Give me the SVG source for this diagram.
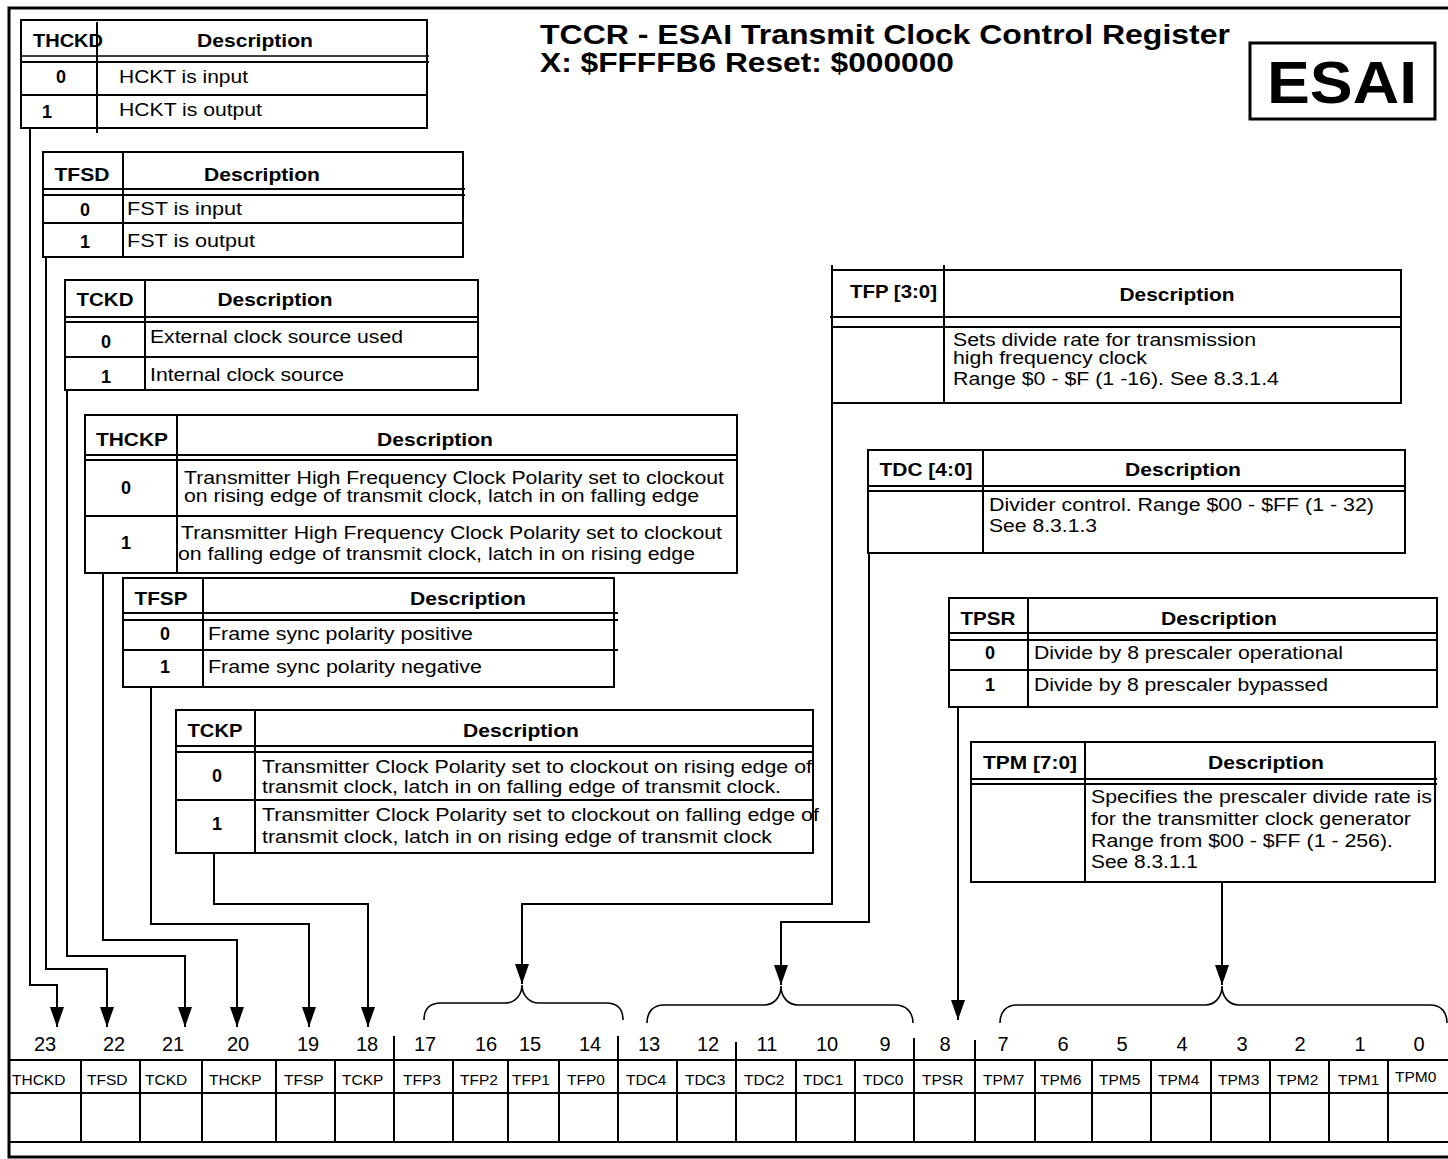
<svg xmlns="http://www.w3.org/2000/svg" width="1448" height="1159" viewBox="0 0 1448 1159">
<style>
text{font-family:"Liberation Sans",Arial,Helvetica,sans-serif;fill:#000}
.frame{fill:none;stroke:#000;stroke-width:3}
.tb{fill:none;stroke:#000;stroke-width:2}
.ln{stroke:#000;stroke-width:2;fill:none}
.thin{stroke:#000;stroke-width:1.5;fill:none}
.conn{fill:none;stroke:#000;stroke-width:2}
.brace{fill:none;stroke:#000;stroke-width:1.6}
.h{font-weight:bold;font-size:18px}
.hm{font-weight:bold;font-size:18px;text-anchor:middle}
.b{font-size:17.5px}
.n{font-weight:bold;font-size:18px;text-anchor:middle}
.bit{font-size:20px;text-anchor:middle}
.reg{font-size:15.5px}
.title{font-weight:bold;font-size:27px}
</style>
<defs>
<marker id="arr" markerUnits="userSpaceOnUse" markerWidth="20" markerHeight="14" refX="20" refY="7" orient="auto">
<path d="M0,0 L20,7 L0,14 z" fill="#000"/>
</marker>
</defs>
<rect class="frame" x="9" y="8" width="1446" height="1149"/>

<g id="title">
<text class="title" x="540" y="44" textLength="690" lengthAdjust="spacingAndGlyphs">TCCR - ESAI Transmit Clock Control Register</text>
<text class="title" x="540" y="72" textLength="414" lengthAdjust="spacingAndGlyphs">X: $FFFFB6 Reset: $000000</text>
</g>
<g id="esai">
<rect x="1250" y="43" width="185" height="76" fill="none" stroke="#000" stroke-width="3"/>
<text x="1342" y="103" font-size="60" font-weight="bold" text-anchor="middle" textLength="150" lengthAdjust="spacingAndGlyphs">ESAI</text>
</g>

<g id="t-thckd">
<rect class="tb" x="21" y="20" width="406" height="108"/>
<line class="thin" x1="21" y1="56" x2="429" y2="56"/>
<line class="ln" x1="21" y1="62" x2="429" y2="62"/>
<line class="ln" x1="21" y1="95" x2="427" y2="95"/>
<line class="ln" x1="97" y1="22" x2="97" y2="133"/>
<text class="h" x="33" y="47" textLength="70" lengthAdjust="spacingAndGlyphs">THCKD</text>
<text class="hm" x="255" y="47" textLength="116" lengthAdjust="spacingAndGlyphs">Description</text>
<text class="n" x="61" y="83">0</text>
<text class="b" x="119" y="83" textLength="129" lengthAdjust="spacingAndGlyphs">HCKT is input</text>
<text class="n" x="47" y="118">1</text>
<text class="b" x="119" y="116" textLength="143" lengthAdjust="spacingAndGlyphs">HCKT is output</text>
</g>

<g id="t-tfsd">
<rect class="tb" x="43" y="152" width="420" height="105"/>
<line class="ln" x1="43" y1="189" x2="465" y2="189"/>
<line class="ln" x1="43" y1="195" x2="465" y2="195"/>
<line class="ln" x1="43" y1="223" x2="463" y2="223"/>
<line class="ln" x1="123" y1="152" x2="123" y2="257"/>
<text class="hm" x="82" y="181" textLength="55" lengthAdjust="spacingAndGlyphs">TFSD</text>
<text class="hm" x="262" y="181" textLength="116" lengthAdjust="spacingAndGlyphs">Description</text>
<text class="n" x="85" y="216">0</text>
<text class="b" x="127" y="215" textLength="115" lengthAdjust="spacingAndGlyphs">FST is input</text>
<text class="n" x="85" y="248">1</text>
<text class="b" x="127" y="247" textLength="128" lengthAdjust="spacingAndGlyphs">FST is output</text>
</g>

<g id="t-tckd">
<rect class="tb" x="65" y="280" width="413" height="110"/>
<line class="ln" x1="65" y1="317" x2="478" y2="317"/>
<line class="ln" x1="65" y1="322" x2="478" y2="322"/>
<line class="ln" x1="65" y1="357" x2="478" y2="357"/>
<line class="ln" x1="145" y1="280" x2="145" y2="390"/>
<text class="hm" x="105" y="306" textLength="57" lengthAdjust="spacingAndGlyphs">TCKD</text>
<text class="hm" x="275" y="306" textLength="115" lengthAdjust="spacingAndGlyphs">Description</text>
<text class="n" x="106" y="348">0</text>
<text class="b" x="150" y="343" textLength="253" lengthAdjust="spacingAndGlyphs">External clock source used</text>
<text class="n" x="106" y="383">1</text>
<text class="b" x="150" y="381" textLength="194" lengthAdjust="spacingAndGlyphs">Internal clock source</text>
</g>

<g id="t-thckp">
<rect class="tb" x="85" y="415" width="652" height="158"/>
<line class="ln" x1="85" y1="455" x2="737" y2="455"/>
<line class="ln" x1="85" y1="460" x2="737" y2="460"/>
<line class="ln" x1="85" y1="516" x2="737" y2="516"/>
<line class="ln" x1="177" y1="415" x2="177" y2="573"/>
<text class="hm" x="132" y="446" textLength="72" lengthAdjust="spacingAndGlyphs">THCKP</text>
<text class="hm" x="435" y="446" textLength="116" lengthAdjust="spacingAndGlyphs">Description</text>
<text class="n" x="126" y="494">0</text>
<text class="b" x="184" y="484" textLength="540" lengthAdjust="spacingAndGlyphs">Transmitter High Frequency Clock Polarity set to clockout</text>
<text class="b" x="184" y="502" textLength="515" lengthAdjust="spacingAndGlyphs">on rising edge of transmit clock, latch in on falling edge</text>
<text class="n" x="126" y="549">1</text>
<text class="b" x="181" y="539" textLength="541" lengthAdjust="spacingAndGlyphs">Transmitter High Frequency Clock Polarity set to clockout</text>
<text class="b" x="178" y="560" textLength="517" lengthAdjust="spacingAndGlyphs">on falling edge of transmit clock, latch in on rising edge</text>
</g>

<g id="t-tfsp">
<rect class="tb" x="123" y="578" width="491" height="109"/>
<line class="ln" x1="123" y1="613" x2="618" y2="613"/>
<line class="ln" x1="123" y1="620" x2="618" y2="620"/>
<line class="ln" x1="123" y1="650" x2="618" y2="650"/>
<line class="ln" x1="203" y1="578" x2="203" y2="687"/>
<text class="hm" x="161" y="605" textLength="53" lengthAdjust="spacingAndGlyphs">TFSP</text>
<text class="hm" x="468" y="605" textLength="116" lengthAdjust="spacingAndGlyphs">Description</text>
<text class="n" x="165" y="640">0</text>
<text class="b" x="208" y="640" textLength="265" lengthAdjust="spacingAndGlyphs">Frame sync polarity positive</text>
<text class="n" x="165" y="673">1</text>
<text class="b" x="208" y="673" textLength="274" lengthAdjust="spacingAndGlyphs">Frame sync polarity negative</text>
</g>

<g id="t-tckp">
<rect class="tb" x="176" y="710" width="637" height="143"/>
<line class="ln" x1="176" y1="746" x2="813" y2="746"/>
<line class="ln" x1="176" y1="752" x2="813" y2="752"/>
<line class="ln" x1="176" y1="800" x2="813" y2="800"/>
<line class="ln" x1="255" y1="710" x2="255" y2="853"/>
<text class="hm" x="215" y="737" textLength="55" lengthAdjust="spacingAndGlyphs">TCKP</text>
<text class="hm" x="521" y="737" textLength="116" lengthAdjust="spacingAndGlyphs">Description</text>
<text class="n" x="217" y="782">0</text>
<text class="b" x="262" y="773" textLength="550" lengthAdjust="spacingAndGlyphs">Transmitter Clock Polarity set to clockout on rising edge of</text>
<text class="b" x="262" y="793" textLength="519" lengthAdjust="spacingAndGlyphs">transmit clock, latch in on falling edge of transmit clock.</text>
<text class="n" x="217" y="830">1</text>
<text class="b" x="262" y="821" textLength="557" lengthAdjust="spacingAndGlyphs">Transmitter Clock Polarity set to clockout on falling edge of</text>
<text class="b" x="262" y="843" textLength="510" lengthAdjust="spacingAndGlyphs">transmit clock, latch in on rising edge of transmit clock</text>
</g>

<g id="t-tfp">
<rect class="tb" x="832" y="270" width="569" height="133"/>
<line class="ln" x1="830" y1="317" x2="1401" y2="317"/>
<line class="ln" x1="832" y1="327" x2="1401" y2="327"/>
<line class="ln" x1="944" y1="265" x2="944" y2="403"/>
<text class="h" x="850" y="298" textLength="87" lengthAdjust="spacingAndGlyphs">TFP [3:0]</text>
<text class="hm" x="1177" y="301" textLength="115" lengthAdjust="spacingAndGlyphs">Description</text>
<text class="b" x="953" y="346" textLength="303" lengthAdjust="spacingAndGlyphs">Sets divide rate for transmission</text>
<text class="b" x="953" y="364" textLength="194" lengthAdjust="spacingAndGlyphs">high frequency clock</text>
<text class="b" x="953" y="385" textLength="326" lengthAdjust="spacingAndGlyphs">Range $0 - $F (1 -16). See 8.3.1.4</text>
</g>

<g id="t-tdc">
<rect class="tb" x="868" y="450" width="537" height="103"/>
<line class="ln" x1="868" y1="486" x2="1405" y2="486"/>
<line class="ln" x1="868" y1="491" x2="1405" y2="491"/>
<line class="ln" x1="983" y1="450" x2="983" y2="553"/>
<text class="hm" x="926" y="476" textLength="93" lengthAdjust="spacingAndGlyphs">TDC [4:0]</text>
<text class="hm" x="1183" y="476" textLength="116" lengthAdjust="spacingAndGlyphs">Description</text>
<text class="b" x="989" y="511" textLength="385" lengthAdjust="spacingAndGlyphs">Divider control. Range $00 - $FF (1 - 32)</text>
<text class="b" x="989" y="532" textLength="108" lengthAdjust="spacingAndGlyphs">See 8.3.1.3</text>
</g>

<g id="t-tpsr">
<rect class="tb" x="949" y="598" width="488" height="109"/>
<line class="ln" x1="949" y1="633" x2="1437" y2="633"/>
<line class="ln" x1="949" y1="640" x2="1437" y2="640"/>
<line class="ln" x1="949" y1="670" x2="1437" y2="670"/>
<line class="ln" x1="1028" y1="598" x2="1028" y2="707"/>
<text class="hm" x="988" y="625" textLength="55" lengthAdjust="spacingAndGlyphs">TPSR</text>
<text class="hm" x="1219" y="625" textLength="116" lengthAdjust="spacingAndGlyphs">Description</text>
<text class="n" x="990" y="659">0</text>
<text class="b" x="1034" y="659" textLength="309" lengthAdjust="spacingAndGlyphs">Divide by 8 prescaler operational</text>
<text class="n" x="990" y="691">1</text>
<text class="b" x="1034" y="691" textLength="294" lengthAdjust="spacingAndGlyphs">Divide by 8 prescaler bypassed</text>
</g>

<g id="t-tpm">
<rect class="tb" x="971" y="742" width="464" height="140"/>
<line class="ln" x1="971" y1="779" x2="1437" y2="779"/>
<line class="ln" x1="971" y1="784" x2="1437" y2="784"/>
<line class="ln" x1="1085" y1="742" x2="1085" y2="882"/>
<text class="hm" x="1030" y="769" textLength="94" lengthAdjust="spacingAndGlyphs">TPM [7:0]</text>
<text class="hm" x="1266" y="769" textLength="116" lengthAdjust="spacingAndGlyphs">Description</text>
<text class="b" x="1091" y="803" textLength="341" lengthAdjust="spacingAndGlyphs">Specifies the prescaler divide rate is</text>
<text class="b" x="1091" y="825" textLength="320" lengthAdjust="spacingAndGlyphs">for the transmitter clock generator</text>
<text class="b" x="1091" y="847" textLength="302" lengthAdjust="spacingAndGlyphs">Range from $00 - $FF (1 - 256).</text>
<text class="b" x="1091" y="868" textLength="107" lengthAdjust="spacingAndGlyphs">See 8.3.1.1</text>
</g>

<g id="connectors">
<polyline class="conn" points="30,128 30,985 57,985 57,1027" marker-end="url(#arr)"/>
<polyline class="conn" points="46,257 46,969 107,969 107,1027" marker-end="url(#arr)"/>
<polyline class="conn" points="67,390 67,956 185,956 185,1027" marker-end="url(#arr)"/>
<polyline class="conn" points="103,573 103,940 237,940 237,1027" marker-end="url(#arr)"/>
<polyline class="conn" points="151,687 151,924 309,924 309,1027" marker-end="url(#arr)"/>
<polyline class="conn" points="214,853 214,904 368,904 368,1027" marker-end="url(#arr)"/>
<polyline class="conn" points="832,265 832,904 522,904 522,984" marker-end="url(#arr)"/>
<polyline class="conn" points="869,553 869,922 781,922 781,985" marker-end="url(#arr)"/>
<polyline class="conn" points="958,707 958,1020" marker-end="url(#arr)"/>
<polyline class="conn" points="1222,882 1222,985" marker-end="url(#arr)"/>
<path class="brace" d="M424,1020 C424,1009 430,1003 441,1003 L505,1003 C515,1003 522,995 522,985 C522,995 529,1003 539,1003 L606,1003 C617,1003 623,1009 623,1020"/>
<path class="brace" d="M647,1023 C647,1012 653,1005 664,1005 L764,1005 C774,1005 781,997 781,986 C781,997 788,1005 798,1005 L895,1005 C906,1005 913,1012 913,1023"/>
<path class="brace" d="M1000,1023 C1000,1012 1006,1005 1017,1005 L1205,1005 C1215,1005 1222,997 1222,986 C1222,997 1229,1005 1239,1005 L1430,1005 C1441,1005 1447,1012 1447,1023"/>
</g>

<g id="register">
<line class="ln" x1="9" y1="1060" x2="1448" y2="1060"/>
<line class="ln" x1="9" y1="1093" x2="1448" y2="1093"/>
<line class="ln" x1="9" y1="1142" x2="1448" y2="1142"/>
<path class="ln" d="M81,1060V1142M140,1060V1142M202,1060V1142M276,1060V1142M335,1060V1142M394,1036V1142M453,1060V1142M508,1060V1142M559,1060V1142M618,1036V1142M677,1060V1142M736,1042V1142M796,1060V1142M855,1060V1142M914,1038V1142M975,1040V1142M1035,1060V1142M1092,1060V1142M1151,1060V1142M1211,1060V1142M1270,1060V1142M1329,1060V1142M1388,1060V1142"/>
<text class="bit" x="45" y="1051">23</text>
<text class="bit" x="114" y="1051">22</text>
<text class="bit" x="173" y="1051">21</text>
<text class="bit" x="238" y="1051">20</text>
<text class="bit" x="308" y="1051">19</text>
<text class="bit" x="367" y="1051">18</text>
<text class="bit" x="425" y="1051">17</text>
<text class="bit" x="486" y="1051">16</text>
<text class="bit" x="530" y="1051">15</text>
<text class="bit" x="590" y="1051">14</text>
<text class="bit" x="649" y="1051">13</text>
<text class="bit" x="708" y="1051">12</text>
<text class="bit" x="767" y="1051">11</text>
<text class="bit" x="827" y="1051">10</text>
<text class="bit" x="885" y="1051">9</text>
<text class="bit" x="945" y="1051">8</text>
<text class="bit" x="1003" y="1051">7</text>
<text class="bit" x="1063" y="1051">6</text>
<text class="bit" x="1122" y="1051">5</text>
<text class="bit" x="1182" y="1051">4</text>
<text class="bit" x="1242" y="1051">3</text>
<text class="bit" x="1300" y="1051">2</text>
<text class="bit" x="1360" y="1051">1</text>
<text class="bit" x="1419" y="1051">0</text>
<text class="reg" x="12" y="1085">THCKD</text>
<text class="reg" x="87" y="1085">TFSD</text>
<text class="reg" x="145" y="1085">TCKD</text>
<text class="reg" x="209" y="1085">THCKP</text>
<text class="reg" x="284" y="1085">TFSP</text>
<text class="reg" x="342" y="1085">TCKP</text>
<text class="reg" x="403" y="1085">TFP3</text>
<text class="reg" x="460" y="1085">TFP2</text>
<text class="reg" x="512" y="1085">TFP1</text>
<text class="reg" x="567" y="1085">TFP0</text>
<text class="reg" x="626" y="1085">TDC4</text>
<text class="reg" x="685" y="1085">TDC3</text>
<text class="reg" x="744" y="1085">TDC2</text>
<text class="reg" x="803" y="1085">TDC1</text>
<text class="reg" x="863" y="1085">TDC0</text>
<text class="reg" x="922" y="1085">TPSR</text>
<text class="reg" x="983" y="1085">TPM7</text>
<text class="reg" x="1040" y="1085">TPM6</text>
<text class="reg" x="1099" y="1085">TPM5</text>
<text class="reg" x="1158" y="1085">TPM4</text>
<text class="reg" x="1218" y="1085">TPM3</text>
<text class="reg" x="1277" y="1085">TPM2</text>
<text class="reg" x="1338" y="1085">TPM1</text>
<text class="reg" x="1395" y="1082">TPM0</text>
</g>
</svg>
